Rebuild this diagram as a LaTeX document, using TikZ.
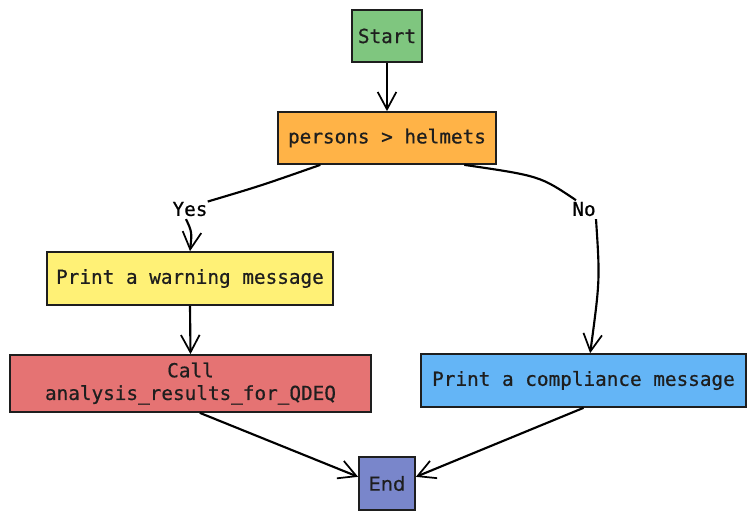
\documentclass[tikz,border=0pt]{standalone}
\usepackage{fontspec}
\newfontfamily\boxfont{DejaVu Sans Mono}[FakeBold=0.6]
\newfontfamily\endfont{DejaVu Sans}[FakeBold=0.4]
\usetikzlibrary{arrows.meta}
\definecolor{cstart}{HTML}{7FC67F}
\definecolor{cdec}{HTML}{FFB347}
\definecolor{cwarn}{HTML}{FFF176}
\definecolor{ccall}{HTML}{E57373}
\definecolor{ccomp}{HTML}{64B5F6}
\definecolor{cend}{HTML}{7986CB}
\definecolor{ink}{HTML}{1E1E1E}
\tikzset{
  box/.style={draw=ink, line width=1.3pt, rectangle, inner sep=0pt, text=ink,
    font=\boxfont\fontsize{14.5}{17}\selectfont, align=center},
  lbl/.style={inner sep=2pt, text=black, font=\boxfont\fontsize{14.5}{17}\selectfont},
  line/.style={draw=black, line width=1.6pt},
  conn/.style={line, -{Straight Barb[length=13pt,width=14pt,line width=1.3pt]}},
}
\begin{document}
\begin{tikzpicture}[x=0.75pt,y=-0.75pt]
\useasboundingbox (0,0) rectangle (756,520);
\node[box, fill=cstart, minimum width=52.5pt, minimum height=39pt] (start) at (387,36) {Start};
\node[box, fill=cdec, minimum width=163.5pt, minimum height=39pt] (dec) at (387,138) {persons > helmets};
\node[box, fill=cwarn, minimum width=214.5pt, minimum height=39.75pt] (warn) at (190,278.5) {Print a warning message};
\node[box, fill=ccall, minimum width=270.75pt, minimum height=42.75pt] (call) at (190.5,383.5) {Call\\analysis\_results\_for\_QDEQ};
\node[box, fill=ccomp, minimum width=243.75pt, minimum height=39.75pt] (comp) at (583.5,380.5) {Print a compliance message};
\node[box, fill=cend, minimum width=42pt, minimum height=39.75pt, font=\endfont\fontsize{14.5}{17}\selectfont] (end) at (387,483.5) {End};
\node[lbl] (yes) at (190,209) {Yes};
\node[lbl] (no) at (584,209) {No};

\draw[conn] (start.south) -- (dec.north);
\draw[line] ([xshift=-50pt]dec.south) .. controls (260,186) .. ([xshift=-2pt,yshift=-2pt]yes.north east);
\draw[conn] ([xshift=-3pt]yes.south) .. controls (192,232) .. (warn.north);
\draw[line] ([xshift=58pt]dec.south) .. controls (540,176) .. ([xshift=-6pt,yshift=-1pt]no.north);
\draw[conn] ([xshift=9pt]no.south) .. controls (600,280) .. ([xshift=5pt]comp.north);
\draw[conn] (warn.south) -- (call.north);
\draw[conn] ([xshift=7pt]call.south) -- ([yshift=5pt]end.west);
\draw[conn] (comp.south) -- ([yshift=5pt]end.east);
\end{tikzpicture}
\end{document}
